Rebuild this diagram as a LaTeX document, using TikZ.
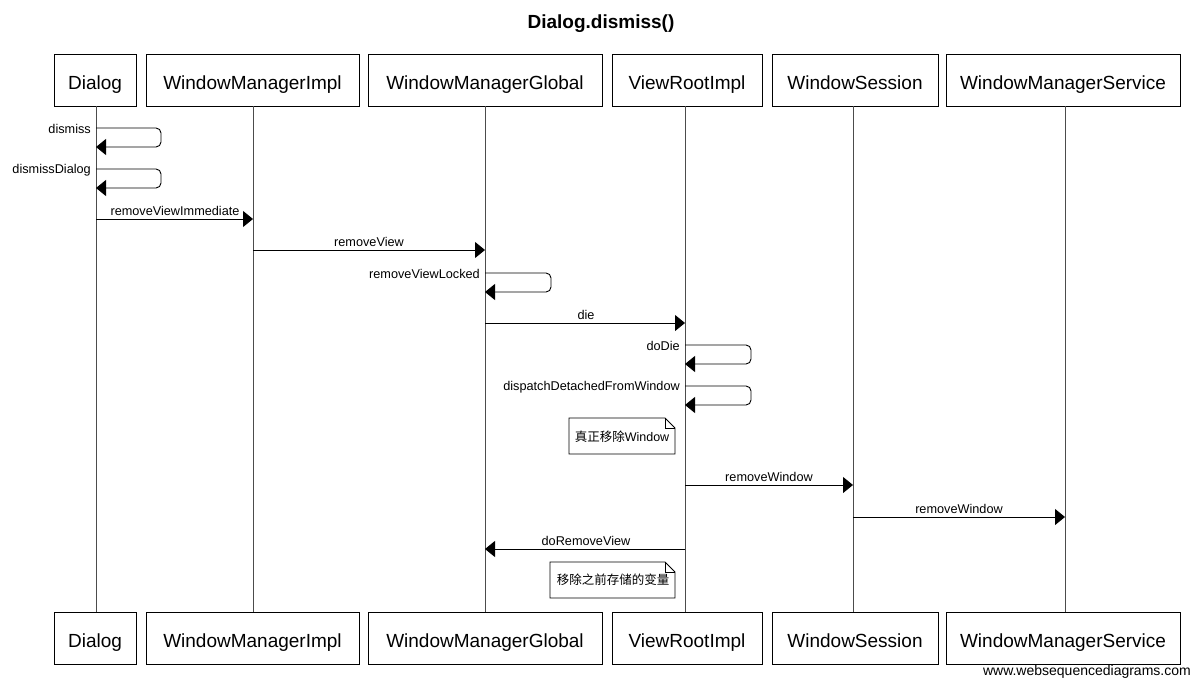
\documentclass[tikz,border=0pt]{standalone}
\usepackage{fontspec}
\setmainfont{Liberation Sans}
\newfontfamily\cjk{Noto Sans CJK SC}
\usetikzlibrary{arrows.meta}
\begin{document}
\begin{tikzpicture}[x=1pt,y=-1pt,
  actor/.style={draw=black, line width=0.9pt, minimum height=52pt, inner sep=0pt, text height=18pt, text depth=0pt, font=\fontsize{19}{22}\selectfont},
  life/.style={draw=black!70, line width=1pt},
  msg/.style={draw=black, line width=0.9pt, -{Triangle[length=10pt,width=16pt]}},
  loopmsg/.style={msg, rounded corners=5pt},
  lbl/.style={font=\fontsize{12.7}{15}\selectfont, inner sep=0pt},
  notetext/.style={font=\fontsize{12.5}{15}\selectfont, inner sep=0pt},
  notebox/.style={draw=black, line width=0.8pt, fill=white}
]
\useasboundingbox (0,0) rectangle (1200,688);
\fill[white] (0,0) rectangle (1200,688);

% title
\node[font=\bfseries\fontsize{19}{22}\selectfont] (title) at (601,24) {Dialog.dismiss()};

% top actors
\node[actor, minimum width=82pt]  (d1) at (95,80)  {Dialog};
\node[actor, minimum width=213pt] (w1) at (252.5,80) {WindowManagerImpl};
\node[actor, minimum width=234pt] (g1) at (485,80) {WindowManagerGlobal};
\node[actor, minimum width=150pt] (v1) at (687,80) {ViewRootImpl};
\node[actor, minimum width=166pt] (s1) at (855,80) {WindowSession};
\node[actor, minimum width=234pt] (m1) at (1063,80) {WindowManagerService};

% bottom actors
\node[actor, minimum width=82pt]  (d2) at (95,638)  {Dialog};
\node[actor, minimum width=213pt] (w2) at (252.5,638) {WindowManagerImpl};
\node[actor, minimum width=234pt] (g2) at (485,638) {WindowManagerGlobal};
\node[actor, minimum width=150pt] (v2) at (687,638) {ViewRootImpl};
\node[actor, minimum width=166pt] (s2) at (855,638) {WindowSession};
\node[actor, minimum width=234pt] (m2) at (1063,638) {WindowManagerService};

% lifelines
\coordinate (dT) at (96,106);  \coordinate (dB) at (96,612);
\coordinate (wT) at (253,106); \coordinate (wB) at (253,612);
\coordinate (gT) at (485,106); \coordinate (gB) at (485,612);
\coordinate (vT) at (685,106); \coordinate (vB) at (685,612);
\coordinate (sT) at (853,106); \coordinate (sB) at (853,612);
\coordinate (mT) at (1065,106); \coordinate (mB) at (1065,612);
\draw[life] (dT) -- (dB);
\draw[life] (wT) -- (wB);
\draw[life] (gT) -- (gB);
\draw[life] (vT) -- (vB);
\draw[life] (sT) -- (sB);
\draw[life] (mT) -- (mB);

% dismiss (self)
\coordinate (a1) at (96,128); \coordinate (a2) at (96,147);
\draw[loopmsg] (a1) -- (161,128) -- (161,147) -- (a2);
\node[lbl, anchor=east] (l1) at (91,129) {dismiss};

% dismissDialog (self)
\coordinate (b1) at (96,169); \coordinate (b2) at (96,188);
\draw[loopmsg] (b1) -- (161,169) -- (161,188) -- (b2);
\node[lbl, anchor=east] (l2) at (91,170) {dismissDialog};

% removeViewImmediate
\coordinate (c1) at (96,219); \coordinate (c2) at (253,219);
\draw[msg] (c1) -- (c2);
\node[lbl, anchor=south] (l3) at (175,216) {removeViewImmediate};

% removeView
\coordinate (e1) at (253,250); \coordinate (e2) at (485,250);
\draw[msg] (e1) -- (e2);
\node[lbl, anchor=south] (l4) at (369,247) {removeView};

% removeViewLocked (self)
\coordinate (f1) at (485,273); \coordinate (f2) at (485,292);
\draw[loopmsg] (f1) -- (551,273) -- (551,292) -- (f2);
\node[lbl, anchor=east] (l5) at (480,274) {removeViewLocked};

% die
\coordinate (h1) at (485,323); \coordinate (h2) at (685,323);
\draw[msg] (h1) -- (h2);
\node[lbl, anchor=south] (l6) at (586,320) {die};

% doDie (self)
\coordinate (i1) at (685,345); \coordinate (i2) at (685,364);
\draw[loopmsg] (i1) -- (751,345) -- (751,364) -- (i2);
\node[lbl, anchor=east] (l7) at (680,346) {doDie};

% dispatchDetachedFromWindow (self)
\coordinate (j1) at (685,386); \coordinate (j2) at (685,405);
\draw[loopmsg] (j1) -- (751,386) -- (751,405) -- (j2);
\node[lbl, anchor=east] (l8) at (680,387) {dispatchDetachedFromWindow};

% note 1
\draw[notebox] (569,418) -- (665,418) -- (675,428) -- (675,454) -- (569,454) -- cycle;
\draw[line width=0.8pt] (665,418) -- (665,428) -- (675,428);
\node[notetext] (n1) at (622,437) {{\cjk 真正移除}Window};

% removeWindow 1
\coordinate (k1) at (685,485); \coordinate (k2) at (853,485);
\draw[msg] (k1) -- (k2);
\node[lbl, anchor=south] (l9) at (769,482) {removeWindow};

% removeWindow 2
\coordinate (p1) at (853,517); \coordinate (p2) at (1065,517);
\draw[msg] (p1) -- (p2);
\node[lbl, anchor=south] (l10) at (959,514) {removeWindow};

% doRemoveView
\coordinate (q1) at (685,549); \coordinate (q2) at (485,549);
\draw[msg] (q1) -- (q2);
\node[lbl, anchor=south] (l11) at (586,546) {doRemoveView};

% note 2
\draw[notebox] (550,562) -- (665,562) -- (675,572) -- (675,598) -- (550,598) -- cycle;
\draw[line width=0.8pt] (665,562) -- (665,572) -- (675,572);
\node[notetext] (n2) at (613,580) {\cjk 移除之前存储的变量};

% footer
\node[font=\fontsize{14}{16}\selectfont, inner sep=0pt, anchor=east] (wsd) at (1191,672) {www.websequencediagrams.com};
\end{tikzpicture}
\end{document}
